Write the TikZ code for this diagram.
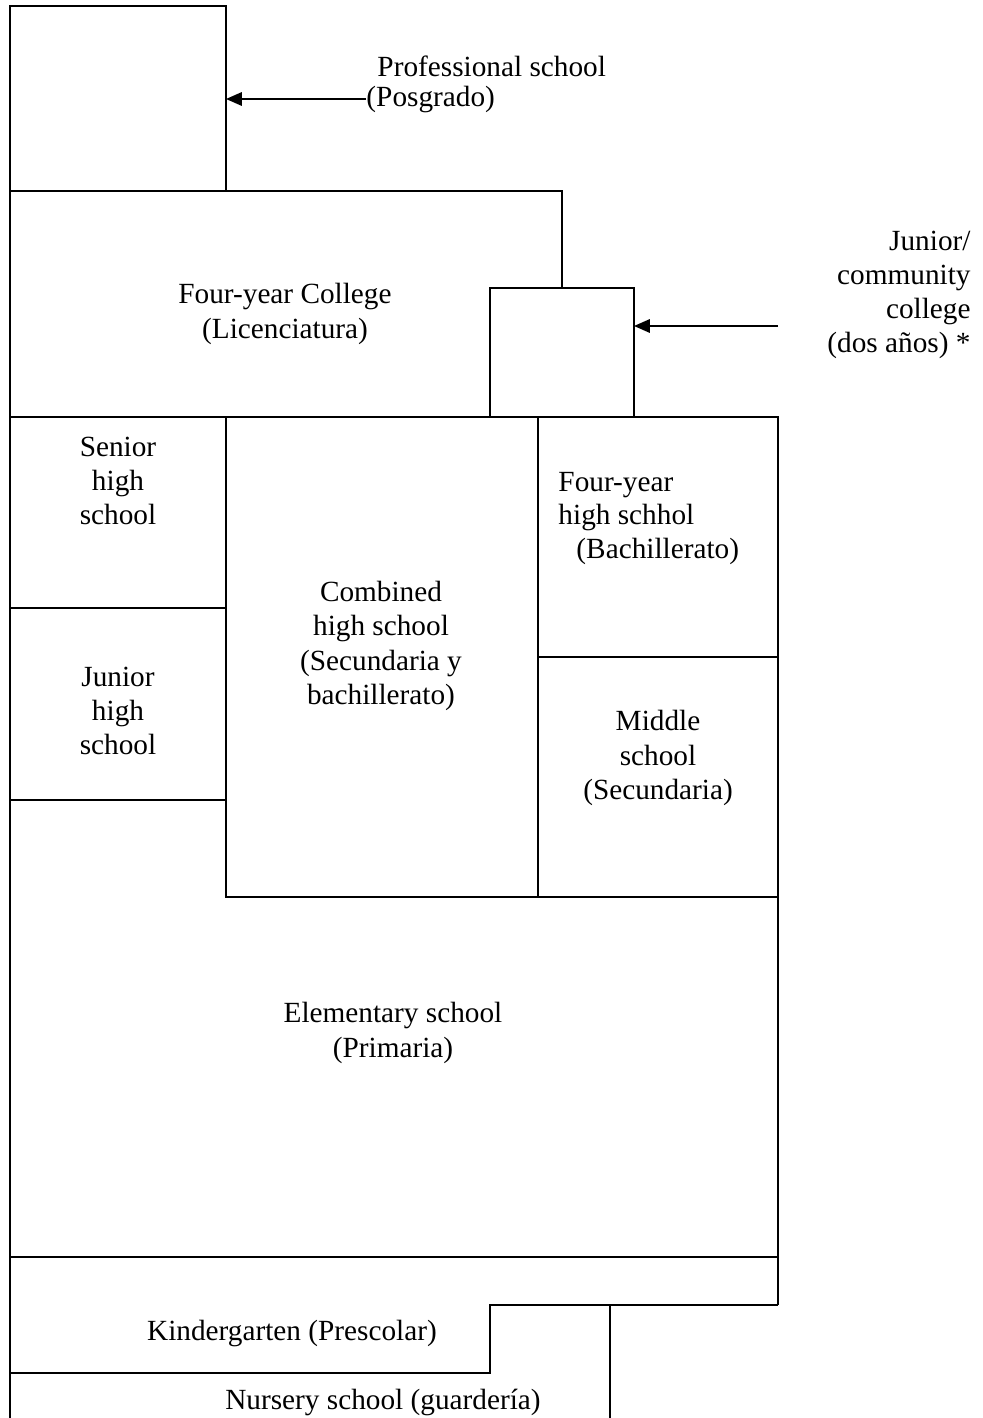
\documentclass[tikz,border=0pt]{standalone}
\usepackage{fontspec}
\setmainfont{Liberation Serif}
\usetikzlibrary{arrows.meta}
\begin{document}
\begin{tikzpicture}[
  x=0.41pt, y=-0.41pt,
  wall/.style={draw, line width=0.8pt},
  lbl/.style={font=\fontsize{12}{14}\selectfont, align=center, inner sep=0pt},
  feed/.style={line width=0.8pt, -{Triangle[length=6.5pt,width=5.5pt]}}
]
\useasboundingbox (0,0) rectangle (982,1418);
% outer frame and blocks
\draw[wall] (10,1418) -- (10,6) -- (226,6) -- (226,191);
\draw[wall] (10,191) -- (562,191) -- (562,288);
\draw[wall] (490,417) -- (490,288) -- (634,288) -- (634,417);
\draw[wall] (10,417) -- (778,417) -- (778,1305);
\draw[wall] (10,608) -- (226,608);
\draw[wall] (10,800) -- (226,800);
\draw[wall] (226,417) -- (226,897) -- (778,897);
\draw[wall] (538,417) -- (538,897);
\draw[wall] (538,657) -- (778,657);
\draw[wall] (10,1257) -- (778,1257);
\draw[wall] (778,1305) -- (490,1305) -- (490,1373) -- (10,1373);
\draw[wall] (610,1305) -- (610,1418);
% labels
\node[lbl, anchor=west] (prof) at (377,66) {Professional school};
\node[lbl, anchor=west] (posg) at (366,100) {(Posgrado)};
\node[lbl, align=right, anchor=east] (jcol) at (971,295) {Junior/\\community\\college\\(dos años) *};
\node[lbl] (college) at (285,314) {Four-year College\\(Licenciatura)};
\node[lbl] (senior) at (118,481) {Senior\\high\\school};
\node[lbl] (junior) at (118,711) {Junior\\high\\school};
\node[lbl] (combined) at (381,646) {Combined\\high school\\(Secundaria y\\bachillerato)};
\node[lbl, anchor=west] (fouryr) at (558,485) {Four-year};
\node[lbl, anchor=west] (hschhol) at (558,518) {high schhol};
\node[lbl, anchor=west] (bach) at (576,551) {(Bachillerato)};
\node[lbl] (middle) at (658,758) {Middle\\school\\(Secundaria)};
\node[lbl] (elem) at (393,1033) {Elementary school\\(Primaria)};
\node[lbl] (kinder) at (292,1333) {Kindergarten (Prescolar)};
\node[lbl] (nursery) at (383,1402) {Nursery school (guardería)};
% arrows
\coordinate (profbox) at (226,99);
\coordinate (jcbox) at (634,326);
\coordinate (jcfrom) at (778,326);
\draw[feed] (posg.west |- profbox) -- (profbox);
\draw[feed] (jcfrom) -- (jcbox);
\end{tikzpicture}
\end{document}
